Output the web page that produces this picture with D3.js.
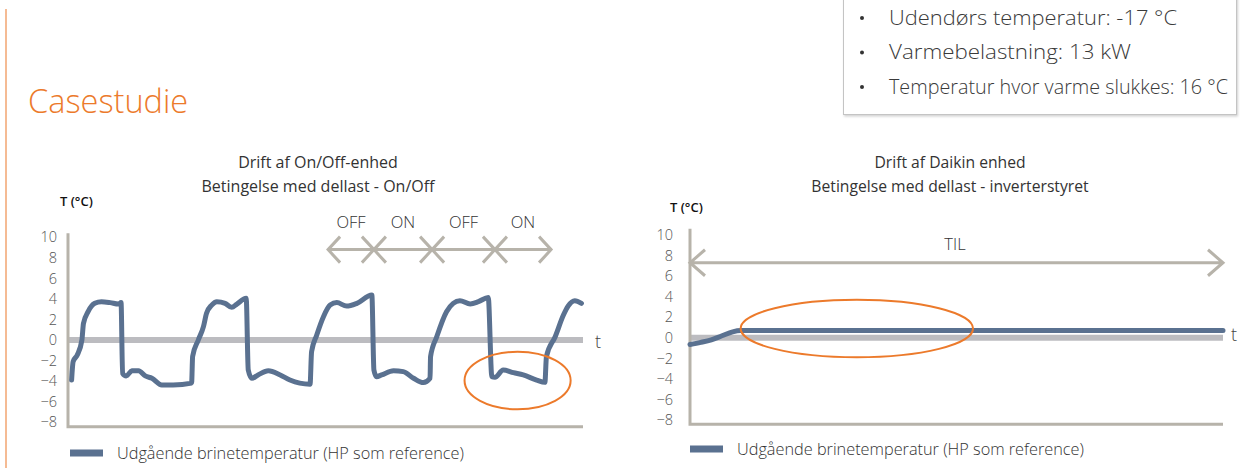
<!DOCTYPE html>
<html><head><meta charset="utf-8">
<script src="https://cdn.jsdelivr.net/npm/d3@7"></script>
<style>
html,body{margin:0;padding:0;background:#fff;}
svg{display:block;font-family:"Open Sans",Lato,sans-serif;}
</style></head>
<body>
<svg id="c" width="1248" height="468"></svg>
<script>
// ---------- data ----------
const pageTitle = "Casestudie";
const infoLines = ["Udendørs temperatur: -17 °C", "Varmebelastning: 13 kW", "Temperatur hvor varme slukkes: 16 °C"];
const infoWidths = [288, 242, 339];
const leftTitle = ["Drift af On/Off-enhed", "Betingelse med dellast - On/Off"];
const rightTitle = ["Drift af Daikin enhed", "Betingelse med dellast - inverterstyret"];
const yLabel = "T (°C)";
const xLabel = "t";
const legendLabel = "Udgående brinetemperatur (HP som reference)";
const yTicks = [10, 8, 6, 4, 2, 0, -2, -4, -6, -8];

// On/Off unit: time (0-100) and outgoing brine temperature (°C)
const leftT = [0.7, 1.0, 1.8, 2.7, 3.0, 3.9, 5.2, 6.5, 8.2, 9.8, 10.3,
  10.6, 11.3, 12.4, 13.7, 15.0, 16.3, 18.2, 20.4, 24.0,
  24.2, 25.3, 26.3, 26.9, 27.9, 28.9, 30.5, 31.8, 32.8, 34.6,
  35.0, 35.7, 36.9, 38.9, 41.2, 43.1, 45.0, 47.0,
  47.3, 48.3, 49.6, 50.9, 52.2, 54.1, 56.1, 59.0,
  59.4, 59.9, 60.9, 63.2, 65.1, 67.1, 69.0, 70.3,
  70.4, 71.6, 73.5, 74.8, 76.1, 78.1, 79.7, 81.6,
  82.3, 82.9, 84.5, 86.5, 88.4, 91.0, 92.6,
  92.9, 94.6, 96.2, 97.1, 98.4, 99.7];
const leftV = [-3.9, -2.1, -1.46, 0, 1.6, 2.76, 3.57, 3.73, 3.64, 3.5, 3.64,
  -3.24, -3.5, -3.0, -2.99, -3.5, -3.73, -4.38, -4.38, -4.2,
  -1.6, 0, 1.3, 2.6, 3.4, 3.73, 3.57, 3.18, 3.5, 4.06,
  -2.92, -3.73, -3.4, -2.99, -3.4, -3.9, -4.2, -4.3,
  -1.14, 0.49, 2.27, 3.4, 3.64, 3.3, 3.57, 4.38,
  -2.92, -3.57, -3.4, -2.99, -3.08, -3.73, -4.15, -3.73,
  -1.62, 0.32, 2.76, 3.57, 3.83, 3.5, 3.73, 4.15,
  -3.57, -3.63, -2.92, -3.18, -3.4, -3.9, -4.12,
  -1.62, 0.32, 2.43, 3.3, 3.83, 3.57];
const phaseLabels = ["OFF", "ON", "OFF", "ON"];
const phaseBounds = [50.5, 59.4, 70.7, 82.9, 93.8];
const phaseArrowLevel = 8.8;
const leftHighlight = {t: 87.3, v: -3.95, dt: 10.3, dv: 2.8};

// Daikin inverter unit
const rightT = [0, 2, 4, 6, 8, 9.5, 20, 100];
const rightV = [-0.65, -0.45, -0.2, 0.2, 0.58, 0.7, 0.7, 0.7];
const tilLabel = "TIL";
const tilLevel = 7.3;
const rightHighlight = {t: 31.3, v: 0.9, dt: 21.8, dv: 2.8};

// ---------- drawing ----------
const svg = d3.select("#c");
const BLUE = "#5a7190", AXIS = "#b7b3aa", ZERO = "#bcbcc0", ORANGE = "#ec7a2b", ARROW = "#b7b3aa";

svg.append("line").attr("x1", 6).attr("x2", 6).attr("y1", 9).attr("y2", 468)
  .attr("stroke", "#f2a470").attr("stroke-width", 1.5);
svg.append("text").attr("x", 28).attr("y", 113).text(pageTitle)
  .attr("fill", ORANGE).attr("font-size", 32.5).attr("font-weight", 300);

// info box
const defs = svg.append("defs");
const f = defs.append("filter").attr("id", "sh").attr("x", "-5%").attr("y", "-5%").attr("width", "110%").attr("height", "120%");
f.append("feDropShadow").attr("dx", 1).attr("dy", 1.5).attr("stdDeviation", 1).attr("flood-color", "#000").attr("flood-opacity", 0.18);
svg.append("rect").attr("x", 843.5).attr("y", -5).attr("width", 393).attr("height", 119.5)
  .attr("fill", "#fff").attr("stroke", "#c4c4c4").attr("stroke-width", 1).attr("filter", "url(#sh)");
infoLines.forEach((s, i) => {
  const y = 17 + i * 34.5;
  svg.append("circle").attr("cx", 862).attr("cy", y + 1).attr("r", 2).attr("fill", "#333");
  svg.append("text").attr("x", 889).attr("y", y).attr("dominant-baseline", "central")
    .attr("font-size", 20).attr("font-weight", 300).attr("fill", "#3a3a3a")
    .attr("textLength", infoWidths[i]).attr("lengthAdjust", "spacingAndGlyphs").text(s);
});

function panel(o) {
  const x = d3.scaleLinear().domain([0, 100]).range([o.x0, o.x1]);
  const y = d3.scaleLinear().domain([0, 10]).range([o.y0, o.y0 - 10 * o.k]);
  const g = svg.append("g");
  o.title.forEach((s, i) => g.append("text").attr("x", o.tx).attr("y", 162 + i * 24)
    .attr("text-anchor", "middle").attr("dominant-baseline", "central")
    .attr("font-size", o.tfs).attr("fill", "#333").text(s));
  g.append("text").attr("x", o.yl[0]).attr("y", o.yl[1]).attr("dominant-baseline", "central")
    .attr("font-size", 13).attr("font-weight", 600).attr("fill", "#111").text(yLabel);
  const ax = d3.axisLeft(y).tickValues(yTicks).tickSize(0).tickPadding(0).tickFormat(d3.format("d"));
  const ag = g.append("g").attr("transform", `translate(${o.lx},0)`).call(ax);
  ag.select(".domain").remove();
  ag.selectAll("text").attr("font-size", 14.5).attr("fill", "#555").attr("font-family", "'Open Sans',Lato,sans-serif").attr("font-weight", 300);
  g.append("line").attr("x1", x(0)).attr("x2", x(100)).attr("y1", y(0)).attr("y2", y(0))
    .attr("stroke", ZERO).attr("stroke-width", 6);
  g.append("text").attr("x", x(100) + o.tdx).attr("y", y(0) + o.tdy).attr("dominant-baseline", "central")
    .attr("font-size", 18).attr("font-weight", 300).attr("fill", "#444").text(xLabel);
  g.append("path").attr("d", `M${x(0)},${y(o.ytop)}V${y(o.ybot)}H${x(100)}`)
    .attr("fill", "none").attr("stroke", AXIS).attr("stroke-width", 3);
  const line = d3.line().x((d, i) => x(o.T[i])).y(d => y(d)).curve(d3.curveMonotoneX);
  g.append("path").attr("d", line(o.V)).attr("fill", "none").attr("stroke", BLUE)
    .attr("stroke-width", 5).attr("stroke-linejoin", "round").attr("stroke-linecap", "round");
  const h = o.hl;
  g.append("ellipse").attr("cx", x(h.t)).attr("cy", y(h.v))
    .attr("rx", x(h.t + h.dt) - x(h.t)).attr("ry", y(h.v - h.dv) - y(h.v))
    .attr("fill", "none").attr("stroke", ORANGE).attr("stroke-width", 2);
  g.append("rect").attr("x", o.lg[0]).attr("y", o.lg[1] - 3.5).attr("width", 33).attr("height", 7).attr("fill", BLUE);
  g.append("text").attr("x", o.lg[0] + 47).attr("y", o.lg[1]).attr("dominant-baseline", "central")
    .attr("font-size", 16.3).attr("font-weight", 300).attr("fill", "#333").text(legendLabel);
  return {x, y, g};
}

function dblArrow(g, xa, xb, yy, w, hh) {
  g.append("path").attr("d", `M${xa},${yy}H${xb}M${xa + w},${yy - hh}L${xa},${yy}L${xa + w},${yy + hh}M${xb - w},${yy - hh}L${xb},${yy}L${xb - w},${yy + hh}`)
    .attr("fill", "none").attr("stroke", ARROW).attr("stroke-width", 3);
}

const L = panel({x0: 68, x1: 583, y0: 340, k: 10.27, ytop: 10.4, ybot: -8.45, T: leftT, V: leftV,
  title: leftTitle, tfs: 16, tx: 318, yl: [60, 201], lx: 57, tdx: 12, tdy: 1, hl: leftHighlight, lg: [70, 453]});
phaseLabels.forEach((s, i) => {
  const a = L.x(phaseBounds[i]), b = L.x(phaseBounds[i + 1]);
  dblArrow(L.g, a, b, L.y(phaseArrowLevel), 12, 13);
  L.g.append("text").attr("x", (a + b) / 2).attr("y", L.y(phaseArrowLevel) - 28).attr("text-anchor", "middle")
    .attr("dominant-baseline", "central").attr("font-size", 16.5).attr("font-weight", 300).attr("fill", "#333").text(s);
});

const R = panel({x0: 690, x1: 1223, y0: 337.8, k: 10.28, ytop: 10.6, ybot: -8.4, T: rightT, V: rightV,
  title: rightTitle, tfs: 15.7, tx: 950, yl: [670, 207], lx: 673, tdx: 8, tdy: -4, hl: rightHighlight, lg: [690, 449]});
dblArrow(R.g, R.x(0), R.x(100), R.y(tilLevel), 15, 13);
R.g.append("text").attr("x", 955).attr("y", 243).attr("text-anchor", "middle").attr("dominant-baseline", "central")
  .attr("font-size", 16.5).attr("font-weight", 300).attr("fill", "#333").text(tilLabel);
</script>
</body></html>
